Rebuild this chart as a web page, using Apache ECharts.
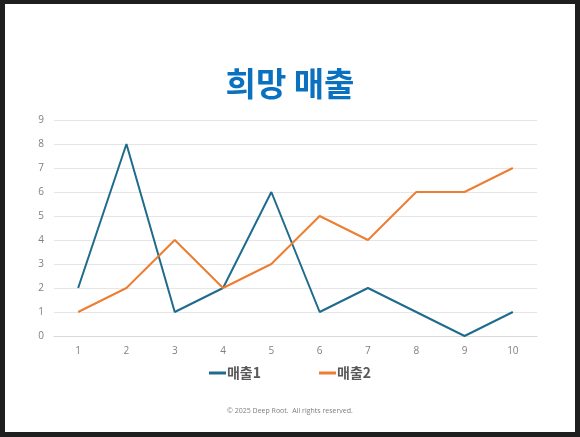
<!DOCTYPE html>
<html>
<head>
<meta charset="utf-8">
<script src="https://cdn.jsdelivr.net/npm/echarts@6/dist/echarts.min.js"></script>
<style>
  html, body { margin: 0; padding: 0; background: #1f1f1f; }
  #main { position: absolute; left: 5px; top: 4px; width: 570px; height: 428px; background: #ffffff; }
</style>
</head>
<body>
<div id="main"></div>
<script>
var categories = ['1', '2', '3', '4', '5', '6', '7', '8', '9', '10'];
var sales1 = [2, 8, 1, 2, 6, 1, 2, 1, 0, 1];
var sales2 = [1, 2, 4, 2, 3, 5, 4, 6, 6, 7];
var seriesNames = ['매출1', '매출2'];

var myChart = echarts.init(document.getElementById('main'));
var options = {
    backgroundColor: '#ffffff',
    animation: false,
    title: {
        text: '희망 매출',
        left: 'center',
        top: 58,
        textStyle: {
            fontFamily: 'Noto Sans CJK KR',
            fontSize: 33,
            fontWeight: 'bold',
            color: '#0a70c0'
        }
    },
    legend: {
        data: seriesNames,
        left: 'center',
        top: 357,
        itemWidth: 17,
        itemHeight: 3,
        itemGap: 58,
        icon: 'rect',
        textStyle: {
            fontFamily: 'Noto Sans CJK KR',
            fontSize: 14,
            fontWeight: 'bold',
            color: '#595959',
            padding: [0, 0, 0, -4]
        }
    },
    graphic: [{
        type: 'text',
        left: 'center',
        top: 403,
        style: {
            text: '© 2025 Deep Root.  All rights reserved.',
            fontFamily: 'Open Sans',
            fontSize: 7,
            fill: '#7f7f7f'
        }
    }],
    grid: {
        left: 49,
        right: 38,
        top: 116,
        bottom: 96
    },
    xAxis: {
        type: 'category',
        data: categories,
        boundaryGap: true,
        axisLine: { show: true, lineStyle: { color: '#d9d9d9', width: 1 } },
        axisTick: { show: false },
        axisLabel: { color: '#7f7f7f', fontSize: 10, margin: 10, fontFamily: 'Open Sans' },
        splitLine: { show: false }
    },
    yAxis: {
        type: 'value',
        min: 0,
        max: 9,
        interval: 1,
        axisLine: { show: false },
        axisTick: { show: false },
        axisLabel: { color: '#7f7f7f', fontSize: 10, margin: 10, fontFamily: 'Open Sans' },
        splitLine: { show: true, lineStyle: { color: '#e6e6e6', width: 1 } }
    },
    series: [
        {
            name: seriesNames[0],
            type: 'line',
            data: sales1,
            symbol: 'none',
            color: '#1f6b8e',
            lineStyle: { width: 2, color: '#1f6b8e' }
        },
        {
            name: seriesNames[1],
            type: 'line',
            data: sales2,
            symbol: 'none',
            color: '#ed7d31',
            lineStyle: { width: 2, color: '#ed7d31' }
        }
    ]
};
myChart.setOption(options);
</script>
</body>
</html>
